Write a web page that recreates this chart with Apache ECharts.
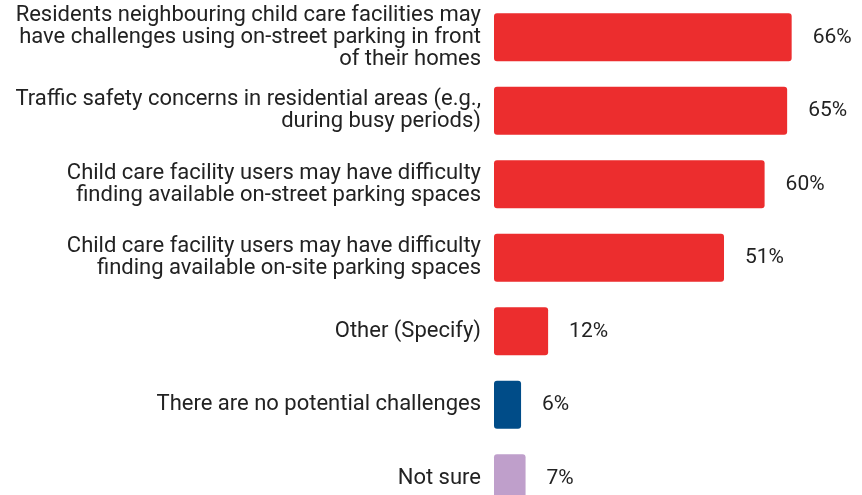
<!DOCTYPE html>
<html>
<head>
<meta charset="utf-8">
<script src="https://cdn.jsdelivr.net/npm/echarts@6/dist/echarts.min.js"></script>
<style>
html,body{margin:0;padding:0;background:#fff;}
#chart{width:862px;height:495px;}
</style>
</head>
<body>
<div id="chart"></div>
<script>
const categories = [
  "Residents neighbouring child care facilities may\nhave challenges using on-street parking in front\nof their homes",
  "Traffic safety concerns in residential areas (e.g.,\nduring busy periods)",
  "Child care facility users may have difficulty\nfinding available on-street parking spaces",
  "Child care facility users may have difficulty\nfinding available on-site parking spaces",
  "Other (Specify)",
  "There are no potential challenges",
  "Not sure"
];
const values = [66, 65, 60, 51, 12, 6, 7];
const barColors = ["#EC2D2E", "#EC2D2E", "#EC2D2E", "#EC2D2E", "#EC2D2E", "#004C88", "#BF9FCB"];

const chart = echarts.init(document.getElementById('chart'), null, {renderer: 'canvas'});
chart.setOption({
  animation: false,
  grid: {left: 494, top: 0.5, width: 451, height: 514.5, containLabel: false, outerBoundsMode: 'none'},
  xAxis: {type: 'value', min: 0, max: 100, show: false},
  yAxis: {
    type: 'category', inverse: true, data: categories,
    axisLine: {show: false}, axisTick: {show: false},
    axisLabel: {margin: 13, color: '#222', fontFamily: 'Roboto', fontSize: 22, lineHeight: 22, align: 'right'}
  },
  series: [{
    type: 'bar',
    data: values.map((v, i) => ({value: v, itemStyle: {color: barColors[i]}})),
    barCategoryGap: '35%',
    itemStyle: {borderRadius: 3},
    label: {show: true, position: 'right', distance: 21, color: '#222', fontFamily: 'Roboto', fontSize: 21, formatter: p => p.value + '%'}
  }]
});
</script>
</body>
</html>
